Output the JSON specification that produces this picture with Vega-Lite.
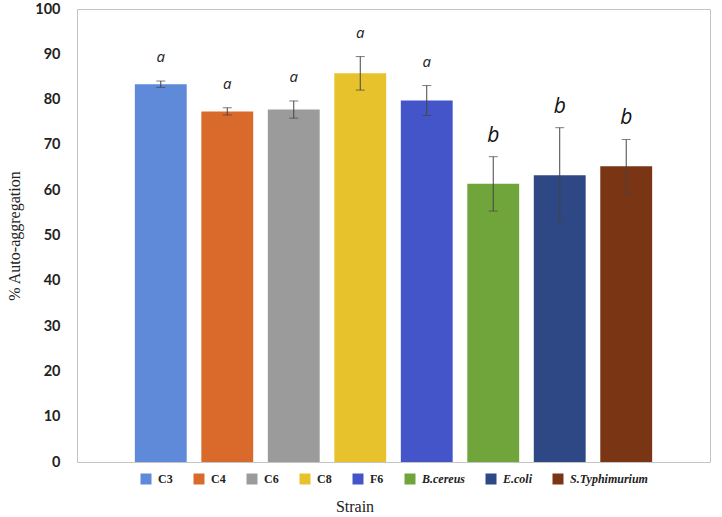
{
  "$schema": "https://vega.github.io/schema/vega-lite/v6.json",
  "width": 633,
  "height": 453,
  "padding": {"top": 1, "left": 6, "right": 11, "bottom": 0},
  "config": {
    "view": {"stroke": "#c4c4c4", "strokeWidth": 1},
    "background": "white",
    "legend": {"layout": {"bottom": {"anchor": "middle"}}}
  },
  "data": {
    "values": [
      {"strain": "C3", "mean": 83.4, "sd": 0.7, "letter": "a"},
      {"strain": "C4", "mean": 77.4, "sd": 0.8, "letter": "a"},
      {"strain": "C6", "mean": 77.8, "sd": 1.9, "letter": "a"},
      {"strain": "C8", "mean": 85.8, "sd": 3.7, "letter": "a"},
      {"strain": "F6", "mean": 79.8, "sd": 3.3, "letter": "a"},
      {"strain": "B.cereus", "mean": 61.4, "sd": 6.0, "letter": "b"},
      {"strain": "E.coli", "mean": 63.3, "sd": 10.5, "letter": "b"},
      {"strain": "S.Typhimurium", "mean": 65.3, "sd": 5.9, "letter": "b"}
    ]
  },
  "transform": [
    {"calculate": "datum.mean - datum.sd", "as": "lo"},
    {"calculate": "datum.mean + datum.sd", "as": "hi"}
  ],
  "encoding": {
    "x": {
      "field": "strain",
      "type": "nominal",
      "sort": null,
      "scale": {"paddingInner": 0.22, "paddingOuter": 0.87},
      "axis": {"labels": false, "ticks": false, "domain": false, "title": null}
    }
  },
  "layer": [
    {
      "mark": {"type": "bar"},
      "encoding": {
        "y": {
          "field": "mean",
          "type": "quantitative",
          "scale": {"domain": [0, 100]},
          "axis": {
            "values": [0, 10, 20, 30, 40, 50, 60, 70, 80, 90, 100],
            "grid": false,
            "ticks": false,
            "domain": false,
            "labelFont": "Lato",
            "labelFontWeight": "bold",
            "labelFontSize": 14.5,
            "labelColor": "#222",
            "labelPadding": 17,
            "title": "% Auto-aggregation",
            "titleFont": "Liberation Serif",
            "titleFontWeight": "normal",
            "titleFontSize": 16,
            "titleColor": "#222",
            "titlePadding": 12
          }
        },
        "color": {
          "field": "strain",
          "type": "nominal",
          "sort": null,
          "scale": {
            "domain": ["C3", "C4", "C6", "C8", "F6", "B.cereus", "E.coli", "S.Typhimurium"],
            "range": ["#5f89d9", "#d96a2c", "#9b9b9b", "#e8c22c", "#4455c9", "#6fa53b", "#2e4785", "#7a3515"]
          },
          "legend": {
            "orient": "bottom",
            "direction": "horizontal",
            "columns": 8,
            "offset": 11,
            "title": "Strain",
            "titleOrient": "bottom",
            "titleAnchor": "middle",
            "titleFont": "Liberation Serif",
            "titleFontWeight": "normal",
            "titleFontSize": 16,
            "titleColor": "#222",
            "titlePadding": 14,
            "symbolType": "square",
            "symbolSize": 121,
            "symbolStrokeWidth": 0,
            "labelFont": "Liberation Serif",
            "labelFontWeight": "bold",
            "labelFontSize": 12,
            "labelColor": "#222",
            "labelOffset": 6,
            "columnPadding": 20,
            "encode": {
              "labels": {
                "update": {
                  "fontStyle": {"signal": "indexof(['B.cereus','E.coli','S.Typhimurium'], datum.value) >= 0 ? 'italic' : 'normal'"}
                }
              },
              "title": {"update": {"dx": {"value": -39}}}
            }
          }
        }
      }
    },
    {
      "mark": {"type": "rule", "color": "#444", "strokeWidth": 1},
      "encoding": {
        "y": {"field": "lo", "type": "quantitative"},
        "y2": {"field": "hi"}
      }
    },
    {
      "mark": {"type": "tick", "color": "#444", "size": 9, "thickness": 1},
      "encoding": {"y": {"field": "lo", "type": "quantitative"}}
    },
    {
      "mark": {"type": "tick", "color": "#444", "size": 9, "thickness": 1},
      "encoding": {"y": {"field": "hi", "type": "quantitative"}}
    },
    {
      "transform": [{"filter": "datum.letter == 'a'"}],
      "mark": {"type": "text", "font": "Open Sans", "fontStyle": "italic", "fontSize": 15, "dy": -19, "baseline": "alphabetic", "color": "#222"},
      "encoding": {
        "y": {"field": "hi", "type": "quantitative"},
        "text": {"field": "letter"}
      }
    },
    {
      "transform": [{"filter": "datum.letter == 'b'"}],
      "mark": {"type": "text", "font": "Open Sans", "fontStyle": "italic", "fontSize": 21, "dy": -15, "baseline": "alphabetic", "color": "#111"},
      "encoding": {
        "y": {"field": "hi", "type": "quantitative"},
        "text": {"field": "letter"}
      }
    }
  ]
}
